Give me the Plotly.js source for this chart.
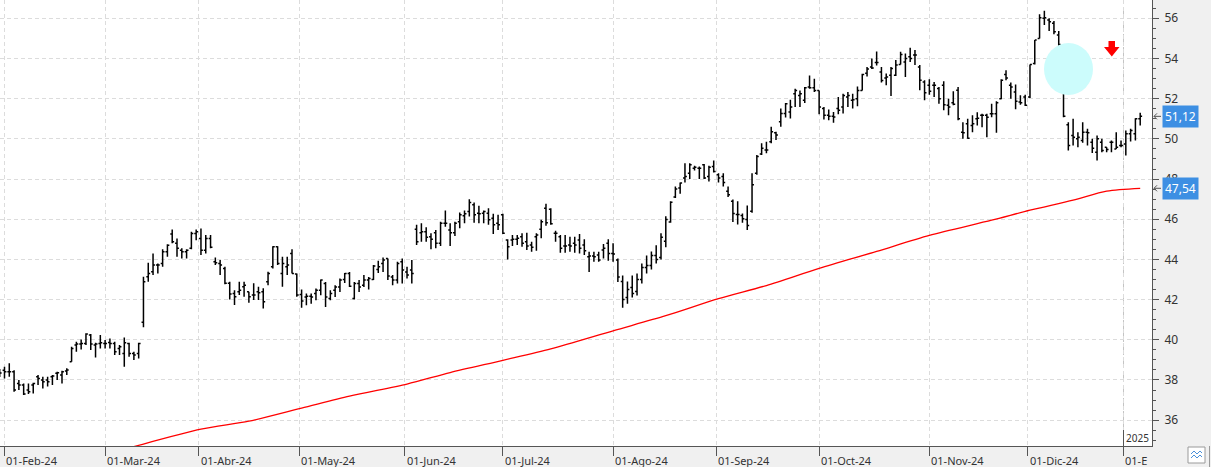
<!DOCTYPE html>
<html>
<head>
<meta charset="utf-8">
<script src="https://cdn.plot.ly/plotly-3.0.1.min.js"></script>
<style>
  html, body { margin: 0; padding: 0; background: #f0f0f0; }
  #chart { width: 1211px; height: 467px; }
</style>
</head>
<body>
<div id="chart"></div>
<script>
// ---------------- DATA ----------------
const dates = [
  "2024-01-31",
  "2024-02-01","2024-02-02","2024-02-05","2024-02-06","2024-02-07","2024-02-08","2024-02-09","2024-02-12","2024-02-13","2024-02-14","2024-02-15","2024-02-16","2024-02-19","2024-02-20","2024-02-21","2024-02-22","2024-02-23","2024-02-26","2024-02-27","2024-02-28","2024-02-29",
  "2024-03-01","2024-03-04","2024-03-05","2024-03-06","2024-03-07","2024-03-08","2024-03-11","2024-03-12","2024-03-13","2024-03-14","2024-03-15","2024-03-18","2024-03-19","2024-03-20","2024-03-21","2024-03-22","2024-03-25","2024-03-26","2024-03-27","2024-03-28",
  "2024-04-02","2024-04-03","2024-04-04","2024-04-05","2024-04-08","2024-04-09","2024-04-10","2024-04-11","2024-04-12","2024-04-15","2024-04-16","2024-04-17","2024-04-18","2024-04-19","2024-04-22","2024-04-23","2024-04-24","2024-04-25","2024-04-26","2024-04-29","2024-04-30",
  "2024-05-02","2024-05-03","2024-05-06","2024-05-07","2024-05-08","2024-05-09","2024-05-10","2024-05-13","2024-05-14","2024-05-15","2024-05-16","2024-05-17","2024-05-20","2024-05-21","2024-05-22","2024-05-23","2024-05-24","2024-05-27","2024-05-28","2024-05-29","2024-05-30","2024-05-31",
  "2024-06-03","2024-06-04","2024-06-05","2024-06-06","2024-06-07","2024-06-10","2024-06-11","2024-06-12","2024-06-13","2024-06-14","2024-06-17","2024-06-18","2024-06-19","2024-06-20","2024-06-21","2024-06-24","2024-06-25","2024-06-26","2024-06-27","2024-06-28",
  "2024-07-01","2024-07-02","2024-07-03","2024-07-04","2024-07-05","2024-07-08","2024-07-09","2024-07-10","2024-07-11","2024-07-12","2024-07-15","2024-07-16","2024-07-17","2024-07-18","2024-07-19","2024-07-22","2024-07-23","2024-07-24","2024-07-25","2024-07-26","2024-07-29","2024-07-30","2024-07-31",
  "2024-08-01","2024-08-02","2024-08-05","2024-08-06","2024-08-07","2024-08-08","2024-08-09","2024-08-12","2024-08-13","2024-08-14","2024-08-15","2024-08-16","2024-08-19","2024-08-20","2024-08-21","2024-08-22","2024-08-23","2024-08-26","2024-08-27","2024-08-28","2024-08-29","2024-08-30",
  "2024-09-02","2024-09-03","2024-09-04","2024-09-05","2024-09-06","2024-09-09","2024-09-10","2024-09-11","2024-09-12","2024-09-13","2024-09-16","2024-09-17","2024-09-18","2024-09-19","2024-09-20","2024-09-23","2024-09-24","2024-09-25","2024-09-26","2024-09-27","2024-09-30",
  "2024-10-01","2024-10-02","2024-10-03","2024-10-04","2024-10-07","2024-10-08","2024-10-09","2024-10-10","2024-10-11","2024-10-14","2024-10-15","2024-10-16","2024-10-17","2024-10-18","2024-10-21","2024-10-22","2024-10-23","2024-10-24","2024-10-25","2024-10-28","2024-10-29","2024-10-30","2024-10-31",
  "2024-11-01","2024-11-04","2024-11-05","2024-11-06","2024-11-07","2024-11-08","2024-11-11","2024-11-12","2024-11-13","2024-11-14","2024-11-15","2024-11-18","2024-11-19","2024-11-20","2024-11-21","2024-11-22","2024-11-25","2024-11-26","2024-11-27","2024-11-28","2024-11-29",
  "2024-12-02","2024-12-03","2024-12-04","2024-12-05","2024-12-06","2024-12-09","2024-12-10","2024-12-11","2024-12-12","2024-12-13","2024-12-16","2024-12-17","2024-12-18","2024-12-19","2024-12-20","2024-12-23","2024-12-24","2024-12-27","2024-12-30","2024-12-31",
  "2025-01-02","2025-01-03","2025-01-06","2025-01-07"
];

const openPrices = [
  38.40,
  38.49,38.41,38.41,37.83,37.75,37.50,37.75,38.16,38.00,38.00,38.16,38.33,38.25,38.45,38.91,39.74,39.79,39.82,40.24,39.74,39.82,
  39.82,39.87,39.82,39.57,39.32,39.82,39.32,39.32,40.87,43.14,43.39,43.72,43.80,44.38,45.26,44.80,44.46,44.38,44.55,45.29,
  45.04,44.46,45.04,43.88,43.80,43.55,42.81,42.31,42.39,42.64,42.39,42.23,42.39,42.39,42.89,43.64,44.63,43.30,43.64,44.30,43.27,
  42.25,42.13,42.17,42.30,42.47,42.80,42.05,42.47,42.63,43.00,43.30,42.05,42.80,42.72,42.97,43.00,43.50,43.80,44.05,43.13,42.97,43.88,
  43.38,43.47,45.50,45.33,45.38,45.13,45.33,44.80,45.80,45.47,45.33,45.88,46.17,46.38,46.72,46.30,46.30,46.30,46.05,45.80,
  46.22,44.97,44.97,45.00,45.13,44.88,44.72,45.13,45.50,46.55,46.50,45.30,45.13,44.67,44.72,44.80,44.97,44.72,44.13,44.17,44.22,44.47,44.80,
  44.30,43.97,42.90,42.10,42.60,42.40,43.00,43.60,43.70,44.20,44.10,44.90,45.86,47.11,47.55,48.05,48.29,48.54,48.54,48.71,48.13,48.62,
  48.21,48.13,47.39,46.89,46.23,46.18,45.99,46.40,48.29,49.25,49.45,49.86,50.30,50.85,51.26,51.34,52.25,52.16,51.92,52.58,52.54,
  52.41,51.51,51.18,51.13,51.51,51.59,52.08,51.92,52.00,52.41,53.27,53.57,53.80,53.33,53.03,53.17,53.17,53.70,53.83,54.08,54.17,53.58,52.83,
  52.67,52.67,52.50,52.67,51.67,51.80,52.42,50.33,50.75,50.67,51.00,51.17,51.17,51.25,51.25,52.00,53.20,52.67,52.33,51.83,52.08,
  52.08,53.75,55.00,56.00,55.92,55.75,55.17,52.40,50.70,50.17,50.00,49.92,50.33,49.83,49.33,49.83,49.58,49.83,49.50,49.67,
  49.75,50.25,50.25,51.00
];

const highPrices = [
  38.55,
  38.66,38.83,38.49,38.00,37.83,37.83,37.86,38.25,38.16,38.16,38.25,38.41,38.46,38.58,39.66,39.90,40.02,40.32,40.29,39.85,40.24,
  39.99,40.07,39.90,39.74,40.12,39.85,39.41,39.85,43.14,43.83,44.30,43.80,44.50,44.76,45.49,45.04,44.55,44.50,45.38,45.49,
  45.54,45.21,45.21,44.10,43.97,43.64,42.89,42.47,42.89,42.89,42.39,42.81,42.64,42.56,43.39,44.66,44.66,44.13,44.13,44.50,43.30,
  42.50,42.30,42.30,42.55,43.00,42.88,42.47,42.72,43.05,43.33,43.38,42.88,42.97,43.22,43.13,43.72,43.93,44.10,44.05,43.22,43.88,44.05,
  43.63,43.97,45.72,45.80,45.60,45.30,45.47,45.88,46.43,45.80,45.88,46.33,46.43,47.00,46.83,46.67,46.43,46.55,46.27,46.22,
  46.27,45.00,45.22,45.22,45.30,45.33,44.88,45.30,45.97,46.77,46.55,45.43,45.22,45.22,45.13,45.13,45.27,45.00,44.38,44.38,44.38,44.77,45.00,
  44.80,44.05,43.20,42.90,43.20,43.30,43.80,44.20,44.40,44.70,45.30,46.15,46.89,47.63,47.83,48.79,48.79,48.66,48.62,48.75,48.66,48.92,
  48.29,48.29,47.63,46.98,46.89,46.28,46.68,48.29,49.20,49.78,49.86,50.60,50.35,51.51,51.79,51.95,52.49,52.41,52.58,53.15,52.99,
  52.41,51.59,51.46,51.34,52.08,52.25,52.33,52.25,52.61,53.24,53.57,54.00,54.35,53.58,53.25,53.58,53.92,54.33,54.25,54.53,54.42,53.67,52.92,
  52.97,52.83,52.58,52.87,52.00,52.37,52.58,50.83,51.00,51.17,51.33,51.25,51.25,51.75,51.87,52.97,53.42,52.80,52.70,52.17,52.20,
  53.70,54.92,56.20,56.37,56.00,55.87,55.37,52.42,50.83,51.00,50.33,50.83,50.50,50.00,50.17,50.00,49.58,49.92,50.33,49.92,
  50.42,50.50,51.03,51.30
];

const lowPrices = [
  38.15,
  38.08,38.16,37.42,37.50,37.25,37.30,37.33,37.75,37.58,37.67,37.75,38.00,37.83,38.25,38.91,39.41,39.52,39.74,39.49,39.12,39.57,
  39.57,39.57,39.24,39.24,38.66,39.16,38.99,39.07,40.62,42.89,43.22,43.30,43.64,44.13,44.80,44.13,44.05,44.05,44.50,44.96,
  44.22,44.30,44.55,43.72,43.22,42.77,42.01,41.73,42.23,42.14,41.84,41.98,41.98,41.56,42.72,43.55,43.72,42.64,43.22,43.30,42.14,
  41.60,41.72,41.80,41.97,42.22,41.63,41.97,42.13,42.38,42.83,42.63,42.00,42.38,42.63,42.50,42.97,43.33,43.38,42.97,42.72,42.80,42.80,
  43.05,42.80,44.72,44.88,44.88,44.50,44.55,44.67,45.63,44.67,45.17,45.55,45.80,46.13,45.83,45.80,45.80,45.72,45.27,45.47,
  45.27,44.00,44.67,44.72,44.63,44.47,44.38,44.43,45.05,45.67,45.72,44.88,44.33,44.33,44.38,44.33,44.30,44.22,43.38,43.88,43.88,44.05,43.93,
  43.88,42.88,41.60,41.80,42.10,42.20,42.80,43.30,43.50,43.80,44.00,44.60,45.82,47.06,47.27,47.83,48.00,48.42,48.00,48.00,47.88,48.33,
  47.83,47.63,47.11,45.86,45.74,45.82,45.46,46.32,48.21,49.20,49.28,49.78,49.94,50.60,51.06,51.01,51.59,51.59,51.79,52.49,52.33,
  51.23,50.96,50.93,50.80,51.23,51.26,51.59,51.51,51.62,52.41,53.10,53.48,53.65,52.80,52.67,52.13,53.13,53.70,53.08,53.83,53.67,52.42,51.92,
  52.20,52.08,51.75,51.42,51.17,51.67,50.92,50.00,50.00,50.33,50.67,50.58,50.08,51.08,50.30,51.97,52.92,52.00,51.47,51.70,51.63,
  52.03,53.70,55.00,55.67,55.37,55.20,54.63,51.08,49.42,49.67,49.58,49.80,49.67,49.30,48.92,49.33,49.33,49.33,49.50,49.58,
  49.17,49.87,49.92,50.67
];

const closePrices = [
  38.35,
  38.41,38.41,37.50,37.75,37.30,37.42,37.83,38.08,37.91,37.91,38.20,38.36,38.41,38.50,39.57,39.79,39.82,40.29,39.79,39.79,39.85,
  39.82,39.82,39.41,39.66,39.85,39.32,39.24,39.82,42.89,43.30,43.72,43.72,44.38,44.71,44.88,44.55,44.38,44.46,45.29,45.38,
  44.46,45.04,44.60,43.83,43.72,42.81,42.28,42.14,42.47,42.72,42.14,42.23,42.34,41.89,43.30,44.63,43.80,43.80,43.72,43.30,42.23,
  41.93,42.17,42.13,42.47,42.97,42.13,42.30,42.63,42.97,43.30,42.67,42.80,42.63,42.97,43.05,43.67,43.63,43.97,43.17,42.97,43.80,43.47,
  43.22,43.30,44.88,45.38,45.10,45.00,44.80,45.80,45.80,45.33,45.80,46.22,46.27,46.83,46.22,46.27,46.38,45.97,45.72,45.72,
  45.30,44.63,45.00,45.05,44.80,44.67,44.60,45.22,45.88,45.83,45.77,45.30,44.55,44.67,44.67,44.72,44.55,44.43,44.17,44.13,43.97,44.55,44.30,
  44.27,43.13,42.00,42.50,42.30,43.00,43.60,43.70,44.20,44.00,45.10,45.99,46.84,47.50,47.80,48.13,48.71,48.59,48.54,48.05,48.59,48.38,
  48.05,47.83,47.22,46.28,46.23,46.02,45.69,47.72,49.12,49.53,49.45,50.35,50.19,51.26,51.75,51.59,52.41,52.25,52.54,52.54,52.41,
  51.59,51.18,51.13,51.09,51.42,52.16,52.16,51.95,52.41,53.20,53.48,53.53,53.80,52.90,53.08,53.50,53.67,54.20,54.00,54.00,54.17,52.92,52.30,
  52.37,52.67,52.00,51.70,51.58,51.72,51.00,50.30,50.03,50.75,51.03,51.17,51.08,51.25,51.80,52.92,53.03,52.58,51.87,51.80,51.67,
  53.70,54.92,56.03,56.03,55.83,55.33,54.70,51.13,49.67,50.08,50.08,50.33,50.30,49.53,50.00,49.42,49.47,49.83,49.58,49.67,
  50.25,50.42,51.00,51.12
];

// moving average (red line), read at a set of dates
const maDates = [
  "2024-03-01","2024-03-08","2024-04-02","2024-04-16","2024-05-02","2024-05-16","2024-06-03","2024-06-14",
  "2024-07-01","2024-07-15","2024-08-01","2024-08-16","2024-09-02","2024-09-16","2024-10-01","2024-10-17",
  "2024-11-01","2024-11-20","2024-12-02","2024-12-13","2024-12-24","2025-01-07"
];
const maValues = [
  34.30,34.62,35.55,35.95,36.60,37.20,37.80,38.37,
  38.98,39.55,40.45,41.20,42.05,42.70,43.55,44.40,
  45.20,45.95,46.45,46.95,47.40,47.54
];

const monthStarts = ["2024-02-01","2024-03-01","2024-04-01","2024-05-01","2024-06-01","2024-07-01","2024-08-01","2024-09-01","2024-10-01","2024-11-01","2024-12-01","2025-01-01"];
const monthLabels = ["01-Feb-24","01-Mar-24","01-Abr-24","01-May-24","01-Jun-24","01-Jul-24","01-Ago-24","01-Sep-24","01-Oct-24","01-Nov-24","01-Dic-24","01-E"];

// ---------------- GEOMETRY ----------------
const PLOT_W = 1152, PLOT_H = 446;
const BAR_STEP = 4.792, X_OFF = 0.3;
const X0 = X_OFF / BAR_STEP, X1 = X0 + PLOT_W / BAR_STEP;
const Y0 = 34.715, Y1 = 56.91;
const px = p => p / PLOT_W;          // pixel -> paper x
const py = p => 1 - p / PLOT_H;      // pixel -> paper y

const xIdx = dates.map((d, i) => i);
const tickPos = monthStarts.map(ms => {
  const i = dates.findIndex(d => d >= ms);
  return dates[i] === ms ? i : i - 0.5;
});
const maX = maDates.map(d => dates.indexOf(d));

const FONT = "Noto Sans, DejaVu Sans, sans-serif";

const traces = [
  {
    type: "ohlc", x: xIdx, open: openPrices, high: highPrices, low: lowPrices, close: closePrices,
    increasing: { line: { color: "#000000", width: 1.5 } },
    decreasing: { line: { color: "#000000", width: 1.5 } },
    tickwidth: 0.4, hoverinfo: "skip", showlegend: false
  },
  {
    type: "scatter", mode: "lines", x: maX, y: maValues,
    line: { color: "#ff0000", width: 1.3, shape: "spline", smoothing: 0.8 }, hoverinfo: "skip", showlegend: false
  }
];

const annotations = monthLabels.map((t, k) => ({
  text: t, x: tickPos[k], xref: "x", xanchor: "left", xshift: 0,
  y: 0, yref: "paper", yanchor: "top", yshift: -5,
  showarrow: false, font: { family: FONT, size: 11, color: "#333333" }
}));

annotations.push({
  text: "2025", x: px(1124), xref: "paper", xanchor: "left",
  y: py(438), yref: "paper", yanchor: "middle",
  showarrow: false, font: { family: FONT, size: 10, color: "#333333" }
});

const lastClose = closePrices[closePrices.length - 1];
const lastMA = maValues[maValues.length - 1];
[lastClose, lastMA].forEach(v => {
  annotations.push({
    text: v.toFixed(2).replace(".", ","), x: 1, xref: "paper", xanchor: "left", xshift: 10,
    y: v, yref: "y", yanchor: "middle", showarrow: false,
    bgcolor: "#3d8fe3", borderpad: 2,
    font: { family: FONT, size: 12, color: "#ffffff" }
  });
});

const shapes = [
  // year separator
  { type: "line", xref: "paper", yref: "paper", x0: px(1123.5), x1: px(1123.5), y0: 0, y1: 1,
    line: { color: "#c4c4c4", width: 1, dash: "9px,4px" }, layer: "below" },
  { type: "line", xref: "paper", yref: "paper", x0: px(1123.5), x1: px(1123.5), y0: py(446), y1: py(430),
    line: { color: "#555555", width: 1 } },
  // cyan circle
  { type: "circle", xref: "paper", yref: "paper", x0: px(1044), x1: px(1093), y0: py(95), y1: py(43),
    fillcolor: "#ccfcfc", line: { width: 0 }, layer: "above" },
  // red arrow
  { type: "path", xref: "paper", yref: "paper", layer: "above",
    path: `M ${px(1108.5)} ${py(41)} L ${px(1115)} ${py(41)} L ${px(1115)} ${py(47)} L ${px(1119.5)} ${py(47)} L ${px(1111.8)} ${py(56.5)} L ${px(1104)} ${py(47)} L ${px(1108.5)} ${py(47)} Z`,
    fillcolor: "#ff0000", line: { width: 0 } },
  // small arrows next to value boxes
  ...[lastClose, lastMA].map(v => {
    const yp = 1 - (v - Y0) / (Y1 - Y0);
    const yPix = yp * PLOT_H;
    return { type: "path", xref: "paper", yref: "paper",
      path: `M ${px(1161)} ${py(yPix)} L ${px(1154)} ${py(yPix)} M ${px(1157)} ${py(yPix - 3)} L ${px(1154)} ${py(yPix)} L ${px(1157)} ${py(yPix + 3)}`,
      line: { color: "#555555", width: 1 } };
  }),
  // bottom-right icon
  { type: "rect", xref: "paper", yref: "paper", x0: px(1188), x1: px(1205), y0: py(463), y1: py(447),
    fillcolor: "#ffffff", line: { color: "#9a9a9a", width: 1 } },
  { type: "path", xref: "paper", yref: "paper",
    path: `M ${px(1191)} ${py(454)} L ${px(1194)} ${py(451)} L ${px(1197)} ${py(454)} L ${px(1200)} ${py(451)} L ${px(1202)} ${py(453)} M ${px(1191)} ${py(458)} L ${px(1194)} ${py(455)} L ${px(1197)} ${py(458)} L ${px(1200)} ${py(455)} L ${px(1202)} ${py(457)}`,
    line: { color: "#4a90d9", width: 1 } },
  { type: "line", xref: "paper", yref: "paper", x0: px(1209.5), x1: px(1209.5), y0: py(446), y1: py(467),
    line: { color: "#9a9a9a", width: 1 } }
];

const layout = {
  width: 1211, height: 467,
  margin: { l: 0, r: 59, t: 0, b: 21, pad: 0 },
  paper_bgcolor: "#f0f0f0", plot_bgcolor: "#ffffff",
  showlegend: false, dragmode: false,
  font: { family: FONT, size: 11, color: "#333333" },
  xaxis: {
    type: "linear", range: [X0, X1], fixedrange: true,
    rangeslider: { visible: false },
    tickvals: tickPos, showticklabels: false,
    ticks: "outside", ticklen: 9, tickcolor: "#555555", tickwidth: 1,
    showgrid: true, gridcolor: "#dcdcdc", griddash: "4px,3px", gridwidth: 1,
    showline: true, linecolor: "#555555", linewidth: 1, zeroline: false
  },
  yaxis: {
    side: "right", range: [Y0, Y1], fixedrange: true,
    tick0: 0, dtick: 2,
    ticks: "outside", ticklen: 6, tickcolor: "#555555", tickwidth: 1,
    minor: { dtick: 0.5, ticks: "outside", ticklen: 3, tickcolor: "#555555", showgrid: false },
    showgrid: true, gridcolor: "#dcdcdc", griddash: "4px,3px", gridwidth: 1,
    showline: true, linecolor: "#555555", linewidth: 1, zeroline: false,
    tickfont: { family: FONT, size: 12, color: "#333333" },
    ticklabelstandoff: 3
  },
  annotations: annotations,
  shapes: shapes
};

Plotly.newPlot("chart", traces, layout, { staticPlot: true, displayModeBar: false });
</script>
</body>
</html>
